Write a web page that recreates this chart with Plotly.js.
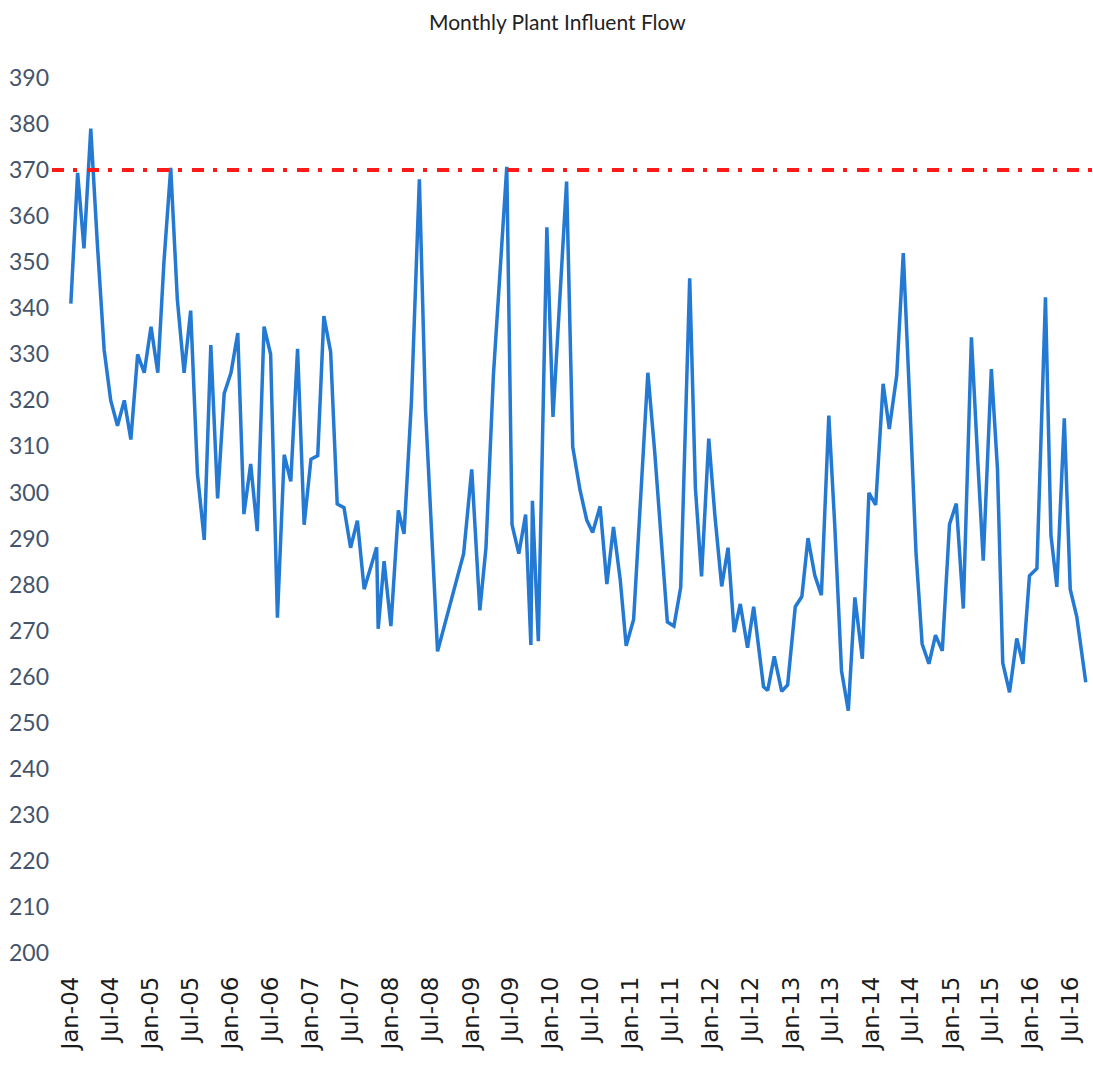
<!DOCTYPE html>
<html>
<head>
<meta charset="utf-8">
<script src="https://cdn.plot.ly/plotly-3.0.1.min.js"></script>
<style>
  html, body { margin: 0; padding: 0; background: #ffffff; }
  #chart { width: 1093px; height: 1067px; }
</style>
</head>
<body>
<div id="chart"></div>
<script>
// ---- Data ----
const sampleDates = [
  '2004-01-01','2004-02-01','2004-03-01','2004-04-01','2004-05-01','2004-06-01','2004-07-01','2004-08-01',
  '2004-09-01','2004-10-01','2004-11-01','2004-12-01','2005-01-01','2005-02-01','2005-03-01','2005-04-01',
  '2005-05-01','2005-06-01','2005-07-01','2005-08-01','2005-09-01','2005-10-01','2005-11-01','2005-12-01',
  '2006-01-01','2006-02-01','2006-03-01','2006-04-01','2006-05-01','2006-06-01','2006-07-01','2006-08-01',
  '2006-09-01','2006-10-01','2006-11-01','2006-12-01','2007-01-01','2007-02-01','2007-03-01','2007-04-01',
  '2007-05-01','2007-06-01','2007-07-01','2007-08-01','2007-09-01','2007-10-28','2007-11-04','2007-12-01',
  '2008-01-01','2008-02-04','2008-03-01','2008-04-04','2008-05-10','2008-06-07','2008-08-01','2008-11-28',
  '2009-01-04','2009-02-10','2009-03-10','2009-04-13','2009-06-13','2009-07-07','2009-08-07','2009-09-07',
  '2009-10-01','2009-10-08','2009-11-04','2009-12-13','2010-01-10','2010-03-13','2010-04-10','2010-05-13',
  '2010-06-13','2010-07-10','2010-08-13','2010-09-13','2010-10-13','2010-11-13','2010-12-10','2011-01-13',
  '2011-03-19','2011-04-19','2011-06-16','2011-07-16','2011-08-16','2011-09-26','2011-10-22','2011-11-19',
  '2011-12-22','2012-01-19','2012-02-19','2012-03-19','2012-04-16','2012-05-14','2012-06-16','2012-07-14',
  '2012-08-28','2012-09-16','2012-10-16','2012-11-19','2012-12-16','2013-01-20','2013-02-19','2013-03-19',
  '2013-04-19','2013-05-19','2013-06-22','2013-07-19','2013-08-19','2013-09-19','2013-10-19','2013-11-22',
  '2013-12-22','2014-01-22','2014-02-25','2014-03-25','2014-04-28','2014-05-28','2014-06-28','2014-07-25',
  '2014-08-22','2014-09-22','2014-10-22','2014-11-22','2014-12-25','2015-01-25','2015-02-26','2015-04-04',
  '2015-05-04','2015-05-28','2015-07-04','2015-08-01','2015-08-25','2015-09-25','2015-10-28','2015-11-25',
  '2015-12-25','2016-01-28','2016-03-07','2016-04-01','2016-04-28','2016-06-01','2016-06-28','2016-07-28',
  '2016-09-07'
];
const influentFlow = [
  341, 369.4, 353, 379, 354, 331, 320, 314.5,
  320, 311.5, 330, 326, 336, 326, 350, 370.5,
  342, 326, 339.5, 304, 289.7, 332, 298.7, 321.5,
  326, 334.6, 295.3, 306.2, 291.6, 336, 330, 272.8,
  308.2, 302.4, 331.2, 293, 307.2, 308, 338.3, 330.5,
  297.5, 296.7, 288, 293.9, 279, 288.1, 270.4, 285.1,
  271, 296.1, 291, 320, 368, 318, 265.5, 286.7,
  305, 274.4, 288, 325.5, 370.7, 293, 286.7, 295.2,
  266.9, 298.2, 267.7, 357.6, 316.4, 367.5, 309.9, 300.6,
  294, 291.3, 297, 280.1, 292.5, 281, 266.7, 272.4,
  326, 309, 271.9, 271, 279.4, 346.5, 301, 281.8,
  311.7, 295, 279.6, 288, 269.7, 275.8, 266.3, 275.2,
  257.8, 257, 264.4, 256.8, 258.2, 275.2, 277.4, 290.1,
  282, 277.7, 316.7, 293, 261.3, 252.6, 277.2, 263.9,
  299.9, 297.3, 323.6, 313.8, 325.4, 352, 318, 287,
  267.1, 262.8, 269, 265.6, 293.1, 297.6, 274.8, 333.7,
  306, 285.2, 326.8, 305, 263, 256.6, 268.3, 262.8,
  281.9, 283.5, 342.4, 290.7, 279.5, 316.1, 279, 273,
  258.8
];
const limitFlow = 370;
const chartTitle = 'Monthly Plant Influent Flow';
const yTickValues = [200,210,220,230,240,250,260,270,280,290,300,310,320,330,340,350,360,370,380,390];

// ---- Chart ----
const traces = [
  {
    type: 'scatter',
    mode: 'lines',
    x: sampleDates,
    y: influentFlow,
    line: { color: '#2479d3', width: 3.5, shape: 'linear' },
    hoverinfo: 'x+y',
    showlegend: false
  }
];

const layout = {
  width: 1093,
  height: 1067,
  paper_bgcolor: '#ffffff',
  plot_bgcolor: '#ffffff',
  margin: { l: 52, r: 0, t: 78, b: 114, pad: 0 },
  showlegend: false,
  title: {
    text: chartTitle,
    font: { family: 'Lato', size: 21, color: '#222222' },
    x: 0.51, xref: 'container', xanchor: 'center',
    y: 0.979, yref: 'container', yanchor: 'middle'
  },
  xaxis: {
    type: 'date',
    range: ['2003-10-07', '2016-10-10'],
    tick0: '2004-01-01',
    dtick: 'M6',
    tickformat: '%b-%y',
    tickangle: -90,
    ticks: '',
    ticklabelstandoff: 18,
    showgrid: false,
    zeroline: false,
    showline: false,
    tickfont: { family: 'DejaVu Sans', size: 23, color: '#1c1c1c' }
  },
  yaxis: {
    range: [200, 390],
    tickvals: yTickValues,
    ticks: '',
    ticklabelstandoff: 2,
    showgrid: false,
    zeroline: false,
    showline: false,
    tickfont: { family: 'Lato', size: 23, color: '#44546a' }
  },
  shapes: [
    {
      type: 'line',
      xref: 'paper', x0: 0, x1: 1,
      yref: 'y', y0: limitFlow, y1: limitFlow,
      line: { color: '#ff1a1a', width: 4, dash: '12px,9px,4px,10px' },
      layer: 'above'
    }
  ]
};

Plotly.newPlot('chart', traces, layout, { displayModeBar: false, staticPlot: true });
</script>
</body>
</html>
